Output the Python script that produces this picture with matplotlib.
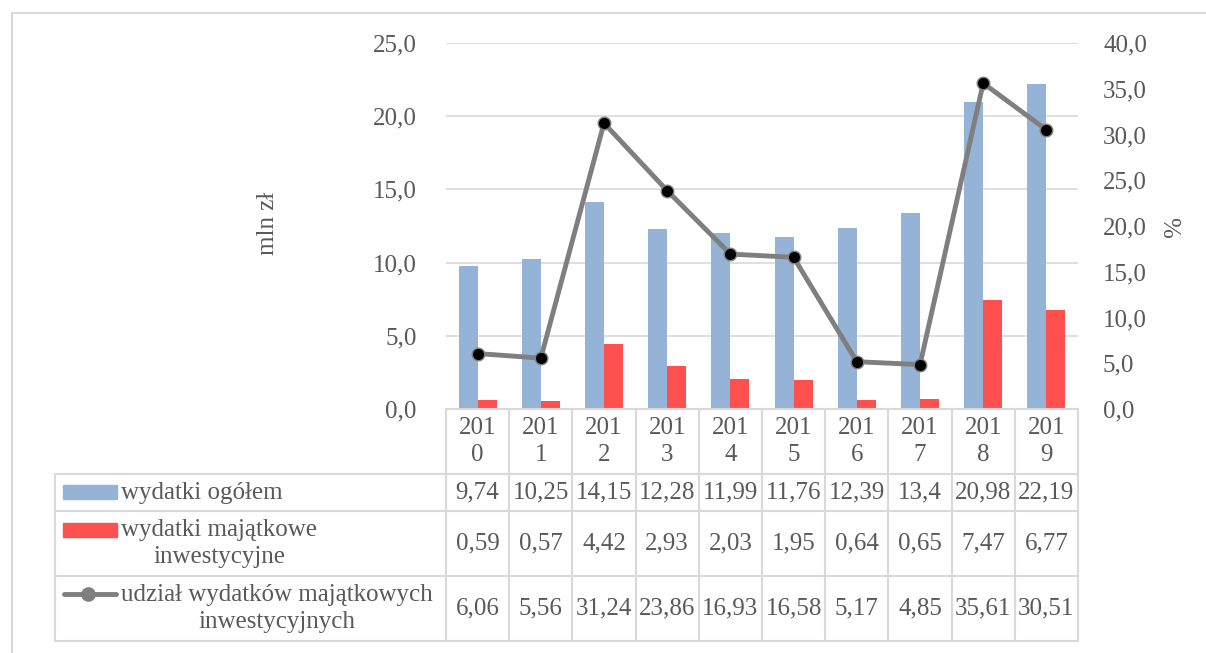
import matplotlib
matplotlib.use("Agg")
import matplotlib.pyplot as plt
from matplotlib.transforms import blended_transform_factory
from matplotlib.lines import Line2D
from matplotlib.patches import Rectangle

# ---------------- data ----------------
years = ["2010", "2011", "2012", "2013", "2014", "2015", "2016", "2017", "2018", "2019"]
wydatki_ogolem = [9.74, 10.25, 14.15, 12.28, 11.99, 11.76, 12.39, 13.4, 20.98, 22.19]
wydatki_majatkowe = [0.59, 0.57, 4.42, 2.93, 2.03, 1.95, 0.64, 0.65, 7.47, 6.77]
udzial = [6.06, 5.56, 31.24, 23.86, 16.93, 16.58, 5.17, 4.85, 35.61, 30.51]
series_labels = ["wydatki ogółem", "wydatki majątkowe\ninwestycyjne",
                 "udział wydatków majątkowych\ninwestycyjnych"]
left_ticks = [0, 5, 10, 15, 20, 25]
right_ticks = [0, 5, 10, 15, 20, 25, 30, 35, 40]

# ---------------- style ----------------
W, H = 1206, 653
BLUE = "#95B3D7"
RED = "#FF5050"
GRAY_LINE = "#7F7F7F"
GRID = "#D9D9D9"
TXT = "#595959"
FS = 18
plt.rcParams['font.family'] = ['Liberation Serif', 'DejaVu Serif']

def fx(x):
    return x / W

def fy(y):
    return 1 - y / H

fig = plt.figure(figsize=(W / 100, H / 100), dpi=100)
ax_l, ax_r, ax_t, ax_b = 446, 1078, 43, 409
ax = fig.add_axes([fx(ax_l), fy(ax_b), fx(ax_r) - fx(ax_l), (ax_b - ax_t) / H])
ax2 = ax.twinx()

n = len(years)
xs = list(range(n))
bw = 0.30
ax.bar([x - bw / 2 for x in xs], wydatki_ogolem, width=bw, color=BLUE, zorder=2)
ax.bar([x + bw / 2 for x in xs], wydatki_majatkowe, width=bw, color=RED, zorder=2)
ax2.plot(xs, udzial, color=GRAY_LINE, lw=3.5, marker='o', markersize=9,
         markerfacecolor='black', markeredgecolor=GRAY_LINE, markeredgewidth=1.0,
         zorder=3, solid_capstyle='round')

ax.set_xlim(-0.5, n - 0.5)
ax.set_ylim(0, 25)
ax2.set_ylim(0, 40)
ax.set_yticks(left_ticks)
ax.set_yticklabels([f"{t:.1f}".replace('.', ',') for t in left_ticks])
ax2.set_yticks(right_ticks)
ax2.set_yticklabels([f"{t:.1f}".replace('.', ',') for t in right_ticks])
ax.set_xticks([])
ax.tick_params(axis='y', length=0, pad=21, labelsize=FS, labelcolor=TXT)
ax2.tick_params(axis='y', length=0, pad=18, labelsize=FS, labelcolor=TXT)
ax.yaxis.grid(True, color=GRID, lw=1.2, zorder=0)
ax.set_axisbelow(True)
for a in (ax, ax2):
    for s in a.spines.values():
        s.set_visible(False)

fig.text(fx(268), fy(223), "mln zł", rotation=90, ha='center', va='center',
         fontsize=FS, color=TXT)
fig.text(fx(1168), fy(227), "%", rotation=270, ha='center', va='center',
         fontsize=FS, color=TXT)

# ---------------- data table ----------------
tr = blended_transform_factory(ax.transData, fig.transFigure)
ftr = fig.transFigure
row_y = [409, 474, 511, 576, 641]
tab_left = 55
LC = "#D9D9D9"
LW = 1.5

def line(xv, yv, trans):
    fig.add_artist(Line2D(xv, yv, transform=trans, color=LC, lw=LW, clip_on=False))

# top of header row along x axis
line([-0.5, n - 0.5], [fy(row_y[0])] * 2, tr)
# column boundaries
for i in range(n + 1):
    line([i - 0.5, i - 0.5], [fy(row_y[0]), fy(row_y[-1])], tr)
# row lines spanning label column up to table right edge
xd = ax.transData.transform((n - 0.5, 0))[0]
x_right = ftr.inverted().transform((xd, 0))[0]
for y in row_y[1:]:
    line([fx(tab_left), x_right], [fy(y), fy(y)], ftr)
line([fx(tab_left), fx(tab_left)], [fy(row_y[1]), fy(row_y[-1])], ftr)

# header: years wrapped
hy = (row_y[0] + row_y[1]) / 2
for i, yr in enumerate(years):
    fig.text(i, fy(hy), yr[:3] + "\n" + yr[3:], transform=tr, ha='center',
             va='center', fontsize=FS, color=TXT, linespacing=1.3)

rows = [wydatki_ogolem, wydatki_majatkowe, udzial]
for r, vals in enumerate(rows):
    cy = (row_y[r + 1] + row_y[r + 2]) / 2
    for i, v in enumerate(vals):
        fig.text(i, fy(cy), f"{v:g}".replace('.', ','), transform=tr, ha='center',
                 va='center', fontsize=FS, color=TXT)
    fig.text(fx(121), fy(cy), series_labels[r], ha='left', va='center',
             multialignment='center', fontsize=FS, color=TXT, linespacing=1.25)

# legend keys
fig.add_artist(Rectangle((fx(63), fy(499)), fx(117) - fx(63), 14 / H,
                         transform=ftr, color=BLUE))
fig.add_artist(Rectangle((fx(63), fy(537)), fx(117) - fx(63), 14 / H,
                         transform=ftr, color=RED))
fig.add_artist(Line2D([fx(64), fx(116)], [fy(594), fy(594)], transform=ftr,
                      color=GRAY_LINE, lw=3.5, solid_capstyle='round'))
fig.add_artist(Line2D([fx(88)], [fy(594)], transform=ftr, marker='o',
                      markersize=9.5, color=GRAY_LINE, lw=0))

# outer chart frame
fig.add_artist(Line2D([fx(12), fx(12), 1.01], [-0.01, fy(13), fy(13)],
                      transform=ftr, color=LC, lw=1.5))

fig.savefig("out.png", dpi=100)
